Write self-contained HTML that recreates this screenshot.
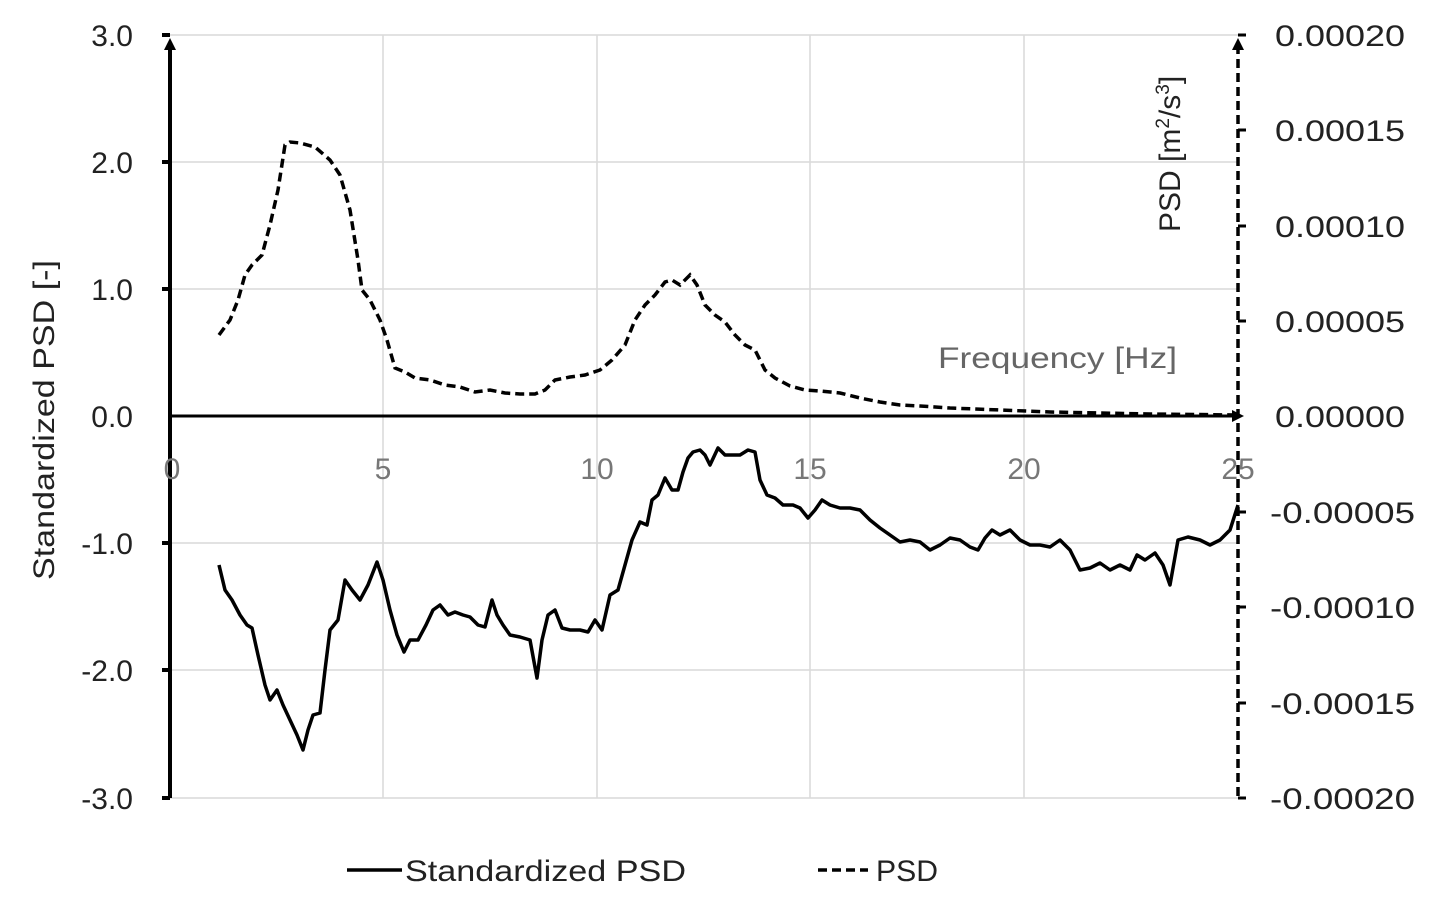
<!DOCTYPE html>
<html><head><style>body{margin:0;background:#fff}</style></head><body>
<svg width="1434" height="896" xmlns="http://www.w3.org/2000/svg" font-family="Liberation Sans, sans-serif">
<rect width="1434" height="896" fill="#fff"/>
<g stroke="#d9d9d9" stroke-width="1.5">
<line x1="170" y1="35" x2="1238" y2="35"/><line x1="170" y1="162" x2="1238" y2="162"/><line x1="170" y1="289" x2="1238" y2="289"/>
<line x1="170" y1="543" x2="1238" y2="543"/><line x1="170" y1="670" x2="1238" y2="670"/><line x1="170" y1="798" x2="1238" y2="798"/>
<line x1="383" y1="35" x2="383" y2="798"/><line x1="597" y1="35" x2="597" y2="798"/><line x1="810" y1="35" x2="810" y2="798"/><line x1="1024" y1="35" x2="1024" y2="798"/>
</g>
<g stroke="#000" stroke-width="4">
<line x1="170" y1="45" x2="170" y2="798"/>
<line x1="170" y1="416" x2="1232" y2="416" stroke-width="3"/>
<line x1="162" y1="35" x2="170" y2="35"/><line x1="162" y1="162" x2="170" y2="162"/><line x1="162" y1="289" x2="170" y2="289"/><line x1="162" y1="543" x2="170" y2="543"/><line x1="162" y1="670" x2="170" y2="670"/><line x1="162" y1="798" x2="170" y2="798"/>
</g>
<polygon points="170,38 164,50 176,50" fill="#000"/>
<polygon points="1244,416 1232,410 1232,422" fill="#000"/>
<line x1="1238" y1="45" x2="1238" y2="798" stroke="#000" stroke-width="3.5" stroke-dasharray="9,5"/>
<polygon points="1238,38 1232,50 1244,50" fill="#000"/>
<g stroke="#000" stroke-width="3">
<line x1="1238" y1="35" x2="1246" y2="35"/><line x1="1238" y1="130" x2="1246" y2="130"/><line x1="1238" y1="226" x2="1246" y2="226"/><line x1="1238" y1="321" x2="1246" y2="321"/><line x1="1238" y1="512" x2="1246" y2="512"/><line x1="1238" y1="607" x2="1246" y2="607"/><line x1="1238" y1="703" x2="1246" y2="703"/><line x1="1238" y1="798" x2="1246" y2="798"/>
</g>
<polyline fill="none" stroke="#000" stroke-width="3.5" stroke-dasharray="9,5" points="219,335 230,320 238,300 245,275 252,265 262,255 270,225 278,190 285,145 290,142 300,143 315,147 330,160 340,175 350,210 358,260 362,290 370,300 380,320 387,340 395,368 405,372 415,378 430,380 445,385 460,387 475,392 490,390 505,393 520,394 535,394 545,390 555,380 570,377 585,375 600,370 612,360 625,345 635,320 645,305 655,295 665,282 672,280 680,285 690,275 697,285 705,305 715,315 725,322 735,335 745,345 755,350 765,370 775,378 790,386 805,390 820,391 840,393 860,398 880,402 900,405 920,406 950,408 1000,410 1050,412 1100,413 1150,414 1238,415"/>
<polyline fill="none" stroke="#000" stroke-width="3.5" stroke-linejoin="round" points="219,565 225,590 232,600 240,615 247,625 252,628 258,655 265,685 270,700 277,690 283,705 290,720 297,735 303,750 308,730 313,715 320,713 325,670 330,630 338,620 345,580 352,590 360,600 368,585 377,562 383,580 390,610 397,635 404,652 410,640 418,640 426,625 433,610 440,605 448,615 455,612 463,615 470,617 478,625 485,627 492,600 497,615 503,625 510,635 520,637 530,640 537,678 542,640 548,615 555,610 562,628 570,630 580,630 588,632 595,620 602,630 610,595 618,590 625,565 632,540 640,522 647,525 652,500 658,495 665,478 672,490 678,490 683,472 688,458 693,452 700,450 705,455 710,465 718,448 725,455 732,455 740,455 748,450 755,452 760,480 767,495 775,498 783,505 793,505 800,508 808,518 815,510 822,500 830,505 840,508 850,508 860,510 870,520 880,528 890,535 900,542 910,540 920,542 930,550 940,545 950,538 960,540 970,547 978,550 985,538 992,530 1000,535 1010,530 1020,540 1030,545 1040,545 1050,547 1060,540 1070,550 1080,570 1090,568 1100,563 1110,570 1120,565 1130,570 1137,555 1145,560 1155,553 1163,565 1170,585 1178,540 1188,537 1200,540 1210,545 1220,540 1230,530 1238,505"/>
<g font-size="30" fill="#222" text-anchor="end">
<text x="133" y="46">3.0</text><text x="133" y="173">2.0</text><text x="133" y="300">1.0</text><text x="133" y="427">0.0</text><text x="133" y="554">-1.0</text><text x="133" y="681">-2.0</text><text x="133" y="809">-3.0</text>
</g>
<g font-size="30" fill="#222" lengthAdjust="spacingAndGlyphs">
<text x="1275" y="46" textLength="130" lengthAdjust="spacingAndGlyphs">0.00020</text><text x="1275" y="141" textLength="130" lengthAdjust="spacingAndGlyphs">0.00015</text><text x="1275" y="237" textLength="130" lengthAdjust="spacingAndGlyphs">0.00010</text><text x="1275" y="332" textLength="130" lengthAdjust="spacingAndGlyphs">0.00005</text><text x="1275" y="427" textLength="130" lengthAdjust="spacingAndGlyphs">0.00000</text><text x="1270" y="523" textLength="145" lengthAdjust="spacingAndGlyphs">-0.00005</text><text x="1270" y="618" textLength="145" lengthAdjust="spacingAndGlyphs">-0.00010</text><text x="1270" y="714" textLength="145" lengthAdjust="spacingAndGlyphs">-0.00015</text><text x="1270" y="809" textLength="145" lengthAdjust="spacingAndGlyphs">-0.00020</text>
</g>
<g font-size="30" fill="#777" text-anchor="middle">
<text x="172" y="479">0</text><text x="383" y="479">5</text><text x="597" y="479">10</text><text x="810" y="479">15</text><text x="1024" y="479">20</text><text x="1238" y="479">25</text>
</g>
<text x="938" y="368" font-size="30" fill="#666" textLength="239" lengthAdjust="spacingAndGlyphs">Frequency [Hz]</text>
<text transform="translate(54,420) rotate(-90)" font-size="30" fill="#222" text-anchor="middle" textLength="320" lengthAdjust="spacingAndGlyphs">Standardized PSD [-]</text>
<text transform="translate(1180,232) rotate(-90)" font-size="30" fill="#222">PSD [m<tspan font-size="19" dy="-11">2</tspan><tspan dy="11">/s</tspan><tspan font-size="19" dy="-11">3</tspan><tspan dy="11">]</tspan></text>
<line x1="347" y1="870" x2="402" y2="870" stroke="#000" stroke-width="3.5"/>
<text x="405" y="881" font-size="30" fill="#222" textLength="281" lengthAdjust="spacingAndGlyphs">Standardized PSD</text>
<line x1="818" y1="870" x2="868" y2="870" stroke="#000" stroke-width="3.5" stroke-dasharray="9,5"/>
<text x="876" y="881" font-size="30" fill="#222" textLength="62" lengthAdjust="spacingAndGlyphs">PSD</text>
</svg>
</body></html>
